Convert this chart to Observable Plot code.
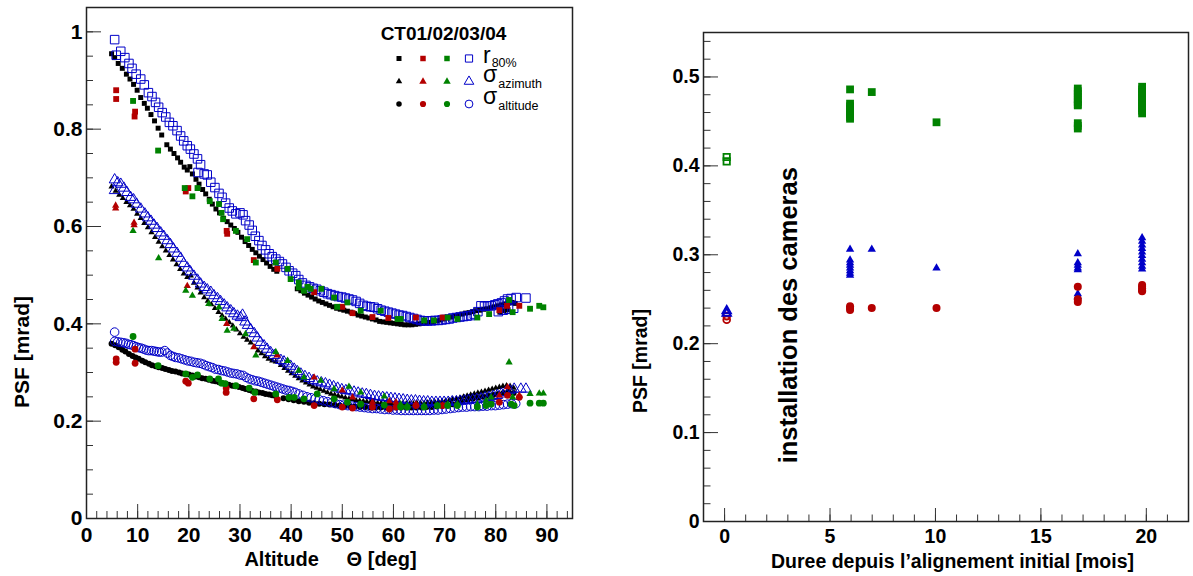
<!DOCTYPE html>
<html><head><meta charset="utf-8">
<script src="https://cdn.jsdelivr.net/npm/d3@7"></script>
<script src="https://cdn.jsdelivr.net/npm/@observablehq/plot@0.6"></script>
<style>
html,body{margin:0;padding:0;background:#fff;}
#wrap{position:relative;width:1193px;height:576px;overflow:hidden;background:#fff;}
#left{position:absolute;left:0;top:0;}
#right{position:absolute;left:600px;top:0;}
</style></head><body><div id="wrap"><div id="left"></div><div id="right"></div></div>
<script>
// ---------------- LEFT PANEL DATA: [altitude deg, PSF mrad] ----------------
const ct01_r80 = [[4.9,.955],[5.5,.947],[6.2,.935],[7.0,.925],[7.8,.913],[8.5,.903],[9.2,.892],[9.9,.880],[10.6,.865],[11.3,.853],[11.9,.843],[12.6,.830],[13.3,.817],[14.0,.802],[14.7,.788],[15.7,.768],[16.4,.759],[17.1,.750],[17.8,.741],[18.4,.732],[19.1,.722],[19.7,.716],[20.2,.723],[20.7,.708],[21.4,.697],[22.0,.687],[22.7,.676],[23.3,.667],[24.0,.656],[24.6,.646],[25.3,.636],[26.0,.628],[26.8,.617],[27.5,.610],[28.2,.603],[28.9,.596],[29.6,.588],[30.3,.578],[31.0,.569],[31.7,.561],[32.4,.553],[33.1,.546],[33.8,.539],[34.5,.532],[35.2,.525],[35.9,.518],[36.6,.512],[37.2,.508],[41.2,.472],[41.9,.468],[42.6,.463],[43.3,.459],[44.0,.455],[44.7,.451],[45.4,.447],[46.1,.444],[46.8,.441],[47.5,.438],[48.2,.435],[48.9,.432],[49.6,.430],[50.3,.428],[51.0,.426],[51.7,.424],[52.4,.421],[53.1,.418],[53.8,.416],[54.5,.414],[55.2,.412],[55.9,.410],[56.6,.408],[57.3,.405],[58.0,.404],[58.7,.403],[59.4,.402],[60.1,.401],[60.8,.400],[61.5,.399],[62.2,.398],[62.9,.398],[63.6,.398],[64.3,.399],[65.0,.400],[65.7,.401],[66.4,.402],[67.1,.403],[67.8,.404],[68.5,.406],[69.2,.408],[69.9,.410],[70.6,.412],[71.3,.414],[72.0,.416],[72.7,.418],[73.4,.420],[74.1,.422],[74.8,.423],[75.5,.425],[76.2,.427],[76.9,.428],[77.6,.430],[78.3,.431],[79.0,.433],[79.7,.435],[80.4,.437],[81.1,.439],[81.8,.441],[82.5,.443],[83.2,.444],[83.8,.442],[80.8,.424],[81.6,.427],[82.4,.429]];
const ct04_r80 = [[5.5,.984],[5.8,.952],[6.7,.960],[7.5,.947],[8.3,.935],[8.9,.925],[9.7,.913],[10.6,.903],[11.3,.891],[12.1,.875],[12.8,.867],[13.5,.855],[14.1,.845],[14.8,.834],[15.5,.825],[16.2,.814],[16.9,.807],[17.7,.797],[18.4,.786],[19.0,.776],[19.7,.766],[20.3,.759],[21.0,.749],[21.7,.739],[22.3,.727],[21.8,.711],[23.0,.708],[23.6,.706],[24.3,.691],[25.1,.680],[25.9,.668],[26.5,.660],[27.2,.648],[27.9,.638],[28.5,.632],[29.2,.626],[30.0,.628],[30.6,.624],[31.1,.612],[31.8,.603],[32.4,.592],[33.0,.580],[33.7,.571],[34.3,.561],[35.0,.552],[35.7,.544],[36.3,.538],[37.0,.533],[37.7,.528],[38.3,.523],[39.0,.516],[39.6,.509],[40.3,.504],[40.9,.499],[41.5,.491],[42.2,.484],[42.9,.479],[43.6,.476],[44.3,.473],[45.0,.471],[45.7,.468],[46.4,.465],[47.1,.462],[47.8,.460],[48.5,.458],[49.2,.456],[49.9,.455],[50.6,.453],[51.3,.451],[52.0,.449],[52.7,.446],[53.4,.442],[54.1,.438],[54.8,.436],[55.5,.435],[56.2,.434],[56.9,.431],[57.6,.428],[58.3,.426],[59.0,.424],[59.7,.422],[60.4,.420],[61.1,.418],[61.8,.417],[62.5,.415],[63.2,.413],[63.9,.411],[64.6,.409],[65.3,.407],[66.0,.406],[66.7,.406],[67.4,.406],[68.1,.407],[68.8,.407],[69.5,.408],[70.2,.409],[70.9,.410],[71.6,.412],[72.3,.413],[73.0,.414],[73.7,.415],[74.4,.416],[75.1,.417],[75.8,.420],[76.5,.425],[77.1,.437],[77.8,.436],[78.4,.437],[79.1,.437],[79.8,.439],[80.4,.441],[81.1,.443],[81.7,.447],[82.3,.451],[83.0,.452],[84.0,.454],[85.9,.453],[80.5,.425],[81.5,.428],[82.5,.430],[83.5,.432]];
const ct01_az = [[4.9,.682],[5.7,.673],[6.4,.665],[7.1,.658],[7.8,.650],[8.5,.643],[9.2,.636],[9.9,.626],[10.6,.617],[11.3,.607],[12.0,.598],[12.7,.588],[13.4,.578],[14.1,.568],[14.8,.559],[15.5,.550],[16.2,.541],[16.9,.532],[17.6,.522],[18.3,.512],[19.0,.503],[19.7,.496],[20.4,.499],[21.0,.484],[21.7,.474],[22.3,.464],[23.0,.454],[23.7,.447],[24.4,.440],[25.1,.432],[25.8,.424],[26.5,.417],[27.2,.410],[27.9,.403],[28.6,.396],[29.3,.388],[30.0,.380],[30.7,.373],[31.4,.367],[32.1,.361],[32.8,.352],[33.5,.345],[34.2,.339],[34.9,.333],[35.6,.328],[36.3,.324],[37.0,.322],[38.0,.315],[38.7,.309],[39.4,.303],[40.1,.298],[40.8,.293],[41.5,.288],[42.2,.283],[42.9,.279],[43.6,.275],[44.3,.271],[45.0,.268],[45.7,.265],[46.4,.262],[47.1,.259],[47.8,.256],[48.5,.254],[49.2,.252],[49.9,.250],[50.6,.248],[51.3,.246],[52.0,.245],[52.7,.243],[53.4,.242],[54.1,.241],[54.8,.240],[55.5,.239],[56.2,.238],[56.9,.237],[57.6,.237],[58.3,.236],[59.0,.236],[59.7,.236],[60.4,.236],[61.1,.236],[61.8,.236],[62.5,.236],[63.2,.236],[63.9,.236],[64.6,.237],[65.3,.237],[66.0,.237],[66.7,.238],[67.4,.238],[68.1,.239],[68.8,.240],[69.5,.241],[70.2,.242],[70.9,.243],[71.6,.245],[72.3,.246],[73.0,.248],[73.7,.250],[74.4,.252],[75.1,.254],[75.8,.256],[76.5,.258],[77.2,.260],[77.9,.262],[78.6,.264],[79.3,.266],[80.0,.268],[80.7,.270],[81.4,.272],[82.1,.273],[82.8,.272],[83.5,.268]];
const ct04_az = [[5.5,.696],[5.5,.674],[6.1,.690],[6.7,.687],[7.3,.679],[7.9,.670],[8.6,.660],[9.2,.655],[9.8,.646],[10.6,.636],[11.4,.626],[12.0,.618],[12.6,.611],[13.2,.603],[13.8,.596],[14.5,.587],[15.1,.580],[15.8,.571],[16.4,.563],[17.0,.554],[17.7,.545],[18.4,.535],[19.0,.524],[19.7,.515],[20.3,.507],[21.0,.498],[21.7,.490],[22.3,.482],[23.0,.475],[23.6,.470],[24.3,.465],[24.9,.458],[25.6,.452],[26.2,.446],[26.9,.439],[27.5,.433],[28.2,.427],[28.8,.421],[29.5,.416],[30.1,.413],[30.5,.418],[31.0,.404],[31.5,.397],[32.1,.388],[32.8,.380],[33.4,.371],[34.0,.362],[34.7,.355],[35.3,.348],[36.0,.341],[36.7,.335],[37.3,.330],[38.0,.325],[38.6,.322],[39.3,.318],[39.9,.313],[40.6,.307],[41.2,.302],[41.9,.297],[42.7,.292],[43.5,.288],[44.3,.284],[45.1,.281],[45.9,.279],[46.7,.277],[47.5,.274],[48.3,.271],[49.1,.268],[49.9,.265],[50.7,.263],[51.5,.262],[52.3,.260],[53.1,.258],[53.9,.256],[54.7,.255],[55.5,.253],[56.3,.251],[57.1,.250],[57.9,.249],[58.7,.248],[59.5,.247],[60.3,.246],[61.1,.245],[61.9,.244],[62.7,.243],[63.5,.242],[64.3,.242],[65.1,.241],[65.9,.240],[66.7,.240],[67.5,.239],[68.3,.239],[69.1,.239],[69.9,.239],[70.7,.239],[71.5,.240],[72.3,.240],[73.1,.241],[73.9,.242],[74.7,.243],[75.5,.244],[76.3,.245],[77.1,.246],[77.9,.248],[78.7,.249],[79.5,.251],[80.3,.253],[81.1,.256],[81.9,.259],[82.7,.263],[83.6,.266],[84.9,.266],[85.9,.266]];
const ct01_alt = [[4.9,.359],[5.6,.356],[6.3,.352],[7.0,.347],[7.6,.343],[8.3,.338],[9.0,.334],[9.6,.331],[10.2,.328],[10.9,.324],[11.5,.321],[12.2,.318],[12.8,.315],[13.5,.313],[14.1,.311],[14.8,.309],[15.4,.307],[16.1,.305],[16.7,.303],[17.4,.302],[18.1,.300],[18.7,.298],[19.4,.297],[20.0,.296],[20.7,.294],[21.3,.292],[22.0,.290],[22.6,.288],[23.3,.287],[23.9,.285],[24.6,.283],[25.2,.282],[25.9,.280],[26.5,.278],[27.2,.277],[27.8,.275],[28.5,.273],[29.1,.272],[29.8,.270],[30.5,.268],[31.1,.266],[31.8,.264],[32.4,.262],[33.1,.261],[33.7,.259],[34.4,.258],[35.0,.256],[35.7,.255],[36.3,.253],[37.0,.251],[38.5,.247],[39.5,.245],[40.5,.243],[41.5,.241],[42.5,.240],[43.5,.238],[44.5,.237],[45.5,.236],[46.5,.235],[47.5,.234],[48.5,.233],[49.5,.232],[50.5,.231],[51.5,.230],[52.5,.230],[53.5,.229],[54.5,.229],[55.5,.228],[56.5,.228],[57.5,.228],[58.5,.228],[59.5,.228],[60.5,.228],[61.5,.228],[62.5,.228],[63.5,.228],[64.5,.228],[65.5,.228],[66.5,.229],[67.5,.229],[68.5,.230],[69.5,.231],[70.5,.233],[71.5,.235],[72.5,.238],[73.5,.241],[74.5,.244],[75.5,.246],[76.5,.248],[77.5,.250],[78.5,.252],[79.5,.254],[80.5,.256],[81.5,.258],[82.5,.260],[83.5,.258]];
const ct04_alt = [[5.5,.383],[5.5,.364],[6.1,.363],[6.7,.362],[7.2,.361],[7.7,.360],[8.2,.358],[8.7,.357],[9.2,.355],[9.7,.353],[10.2,.351],[10.7,.350],[11.2,.348],[11.7,.346],[12.2,.345],[12.7,.345],[13.2,.344],[13.7,.343],[14.2,.342],[14.7,.342],[15.3,.345],[15.8,.340],[16.4,.335],[16.9,.333],[17.4,.331],[18.0,.330],[18.6,.328],[19.2,.326],[19.8,.324],[20.4,.323],[21.0,.321],[21.6,.320],[22.2,.319],[22.8,.317],[23.4,.314],[24.0,.312],[24.6,.310],[25.2,.307],[25.8,.306],[26.4,.304],[27.0,.303],[27.6,.301],[28.2,.299],[28.8,.298],[29.4,.297],[30.0,.295],[30.6,.294],[31.2,.290],[31.8,.287],[32.4,.285],[33.0,.283],[33.6,.282],[34.2,.280],[34.8,.278],[35.4,.276],[36.0,.274],[36.6,.272],[37.2,.270],[37.8,.268],[38.4,.266],[39.0,.264],[39.6,.263],[40.2,.261],[40.8,.259],[41.5,.256],[42.3,.253],[43.1,.250],[43.9,.248],[44.7,.246],[45.5,.244],[46.3,.242],[47.1,.240],[47.9,.238],[48.7,.236],[49.5,.234],[50.3,.233],[51.1,.232],[51.9,.231],[52.7,.230],[53.5,.229],[54.3,.228],[55.1,.227],[55.9,.226],[56.7,.226],[57.5,.225],[58.3,.224],[59.1,.224],[59.9,.223],[60.7,.223],[61.5,.222],[62.3,.222],[63.1,.222],[63.9,.222],[64.7,.222],[65.5,.222],[66.3,.222],[67.1,.222],[67.9,.223],[68.7,.223],[69.5,.224],[70.3,.225],[71.1,.226],[71.9,.227],[72.7,.228],[73.5,.229],[74.3,.229],[75.1,.230],[75.9,.230],[76.7,.230],[77.5,.231],[78.3,.231],[79.1,.232],[79.9,.232],[80.7,.233],[81.5,.234],[82.3,.235],[83.1,.236],[83.9,.236]];
const ct02_r80 = [[5.8,.880],[5.8,.862],[9.5,.836],[9.4,.826],[19.4,.672],[19.9,.679],[27.4,.591],[27.5,.585],[32.7,.531],[37.3,.513],[44.5,.465],[50.0,.435],[52.0,.422],[55.9,.414],[59.0,.412],[64.4,.413],[69.6,.413],[80.7,.428],[82.2,.437],[84.6,.437]];
const ct03_r80 = [[9.1,.858],[14.0,.756],[19.2,.679],[20.7,.662],[21.7,.679],[24.1,.652],[25.9,.646],[26.4,.628],[26.7,.615],[29.2,.591],[31.4,.574],[33.1,.526],[37.0,.526],[39.3,.513],[39.9,.492],[41.5,.485],[41.5,.475],[42.5,.468],[43.2,.476],[43.8,.472],[45.9,.472],[48.4,.454],[49.0,.435],[51.0,.444],[53.6,.427],[57.5,.427],[60.8,.410],[61.4,.410],[66.0,.407],[67.9,.407],[70.6,.413],[72.5,.410],[76.4,.413],[78.7,.420],[82.6,.449],[83.3,.424],[86.7,.431],[88.5,.437],[89.3,.434]];
const ct02_az = [[5.7,.643],[5.7,.637],[9.3,.608],[9.3,.603],[19.7,.478],[27.4,.400],[32.7,.352],[37.3,.335],[44.5,.290],[50.0,.263],[52.0,.249],[55.9,.239],[59.2,.241],[60.5,.239],[64.4,.235],[69.6,.232],[80.7,.253],[82.3,.270],[84.6,.253]];
const ct03_az = [[9.1,.591],[14.1,.535],[19.4,.468],[20.7,.458],[23.9,.441],[25.9,.434],[26.5,.410],[27.5,.386],[28.8,.390],[31.1,.379],[33.1,.335],[37.0,.342],[39.3,.324],[41.5,.304],[42.5,.290],[45.8,.283],[48.4,.266],[51.3,.271],[53.6,.259],[58.2,.251],[61.4,.235],[62.7,.232],[66.0,.232],[68.6,.232],[70.6,.235],[72.5,.235],[76.4,.235],[78.1,.242],[79.1,.249],[82.6,.321],[83.3,.249],[86.7,.256],[88.5,.257],[89.3,.257]];
const ct02_alt = [[5.8,.328],[5.8,.321],[9.5,.348],[9.5,.319],[19.4,.282],[19.9,.278],[27.3,.268],[27.3,.259],[32.7,.246],[37.3,.244],[44.5,.232],[50.0,.229],[52.0,.227],[55.9,.229],[59.2,.225],[60.5,.229],[64.4,.232],[69.6,.232],[80.7,.239],[82.3,.253],[84.6,.249]];
const ct03_alt = [[9.1,.374],[14.0,.314],[19.4,.297],[20.7,.290],[21.7,.295],[24.1,.287],[25.8,.287],[26.4,.278],[27.1,.277],[29.2,.273],[31.8,.268],[32.9,.259],[37.0,.256],[39.6,.249],[40.6,.249],[42.5,.246],[45.1,.256],[48.4,.246],[51.0,.239],[53.6,.235],[58.2,.233],[61.4,.229],[62.7,.229],[66.0,.229],[68.6,.232],[70.6,.232],[72.5,.232],[76.4,.229],[78.1,.232],[79.1,.235],[83.0,.235],[83.6,.232],[86.7,.237],[88.5,.237],[89.3,.237]];

// ---------------- RIGHT PANEL DATA: [months, PSF mrad] ----------------
const r80_initial = [[0.1,.410],[0.1,.405]];
const az_initial = [[0.1,.237],[0.1,.234]];
const alt_initial = [[0.1,.231],[0.1,.227]];
const r80_later = [[5.95,.486],[5.95,.470],[5.95,.467],[5.95,.464],[5.95,.461],[5.95,.458],[5.95,.455],[5.95,.453],[6.98,.483],[10.05,.449],
  [16.75,.487],[16.75,.484],[16.75,.481],[16.75,.478],[16.75,.475],[16.75,.472],[16.75,.469],[16.75,.468],[16.75,.448],[16.75,.445],[16.75,.442],
  [19.8,.489],[19.8,.486],[19.8,.483],[19.8,.480],[19.8,.477],[19.8,.474],[19.8,.471],[19.8,.468],[19.8,.465],[19.8,.462],[19.8,.459]];
const az_later = [[5.95,.306],[5.95,.294],[5.95,.291],[5.95,.288],[5.95,.285],[5.95,.282],[5.95,.279],[5.95,.277],[6.98,.306],[10.05,.285],
  [16.75,.301],[16.75,.291],[16.75,.288],[16.75,.285],[16.75,.283],[16.75,.256],[16.75,.253],
  [19.8,.319],[19.8,.315],[19.8,.311],[19.8,.307],[19.8,.303],[19.8,.299],[19.8,.295],[19.8,.291],[19.8,.287],[19.8,.284]];
const alt_later = [[5.95,.242],[5.95,.240],[5.95,.238],[6.98,.240],[10.05,.240],
  [16.75,.264],[16.75,.250],[16.75,.247],
  [19.8,.266],[19.8,.264],[19.8,.262],[19.8,.260],[19.8,.259]];

// ---------------- TICKS AND TEXTS ----------------
const leftYTicks = [0, 0.2, 0.4, 0.6, 0.8, 1];
const leftXTicks = [0, 10, 20, 30, 40, 50, 60, 70, 80, 90];
const rightYTicks = [0, 0.1, 0.2, 0.3, 0.4, 0.5];
const rightXTicks = [0, 5, 10, 15, 20];
const leftXTitle = "Altitude\u00a0\u00a0\u00a0\u00a0\u00a0Θ [deg]";
const yTitle = "PSF [mrad]";
const rightXTitle = "Duree depuis l\u2019alignement initial [mois]";
const annotation = "installation des cameras";
const legendTitle = "CT01/02/03/04";
const legendRows = [["r","80%"],["σ","azimuth"],["σ","altitude"]];

const FONT = "'Liberation Sans', Arial, Helvetica, sans-serif";
const BLACK = "#000000", RED = "#b40000", GREEN = "#008200", BLUE = "#0000c8", AX = "#333333";
const pts = a => a.map(([x, y]) => ({x, y}));

// ================= LEFT PLOT =================
const LW = 600, LH = 576, LML = 86, LMR = 28, LMT = 7, LMB = 58;
const lfw = LW - LML - LMR, lfh = LH - LMT - LMB;
const leftYMinor = d3.range(0, 1.0501, 0.05);
const leftXMinor = d3.range(0, 95, 2);

const dotSet = (data, sym, r, color, open, sw = 1) => Plot.dot(pts(data), {
  x: "x", y: "y", symbol: sym, r,
  fill: open ? "none" : color, stroke: open ? color : "none", strokeWidth: open ? sw : 0
});
const title = (txt, o) => Plot.text([txt], {text: d => d, textAnchor: "middle", lineAnchor: "middle", fontWeight: "bold", fill: "black", ...o});

const left = Plot.plot({
  width: LW, height: LH,
  marginLeft: LML, marginRight: LMR, marginTop: LMT, marginBottom: LMB,
  x: {domain: [0, 95], label: null},
  y: {domain: [0, 1.05], label: null},
  style: {fontFamily: FONT, background: "white", overflow: "visible", color: "black"},
  marks: [
    Plot.tickY(leftYMinor, {y: d => d, insetRight: lfw - 7, stroke: AX, strokeWidth: 1}),
    Plot.tickY(leftYTicks, {y: d => d, insetRight: lfw - 15, stroke: AX, strokeWidth: 1}),
    Plot.tickX(leftXMinor, {x: d => d, insetTop: lfh - 7, stroke: AX, strokeWidth: 1}),
    Plot.tickX(leftXTicks, {x: d => d, insetTop: lfh - 14, stroke: AX, strokeWidth: 1}),
    Plot.axisY({ticks: leftYTicks, tickSize: 0, tickPadding: 4, fontSize: 21, fontWeight: "bold", tickFormat: d => String(d), label: null}),
    Plot.axisX({ticks: leftXTicks, tickSize: 0, tickPadding: 9, fontSize: 21, fontWeight: "bold", tickFormat: d => String(d), label: null}),
    title(leftXTitle, {frameAnchor: "bottom", dx: 1, dy: 41, fontSize: 20}),
    title(yTitle, {frameAnchor: "left", rotate: -90, dx: -64, dy: 89, fontSize: 21}),
    dotSet(ct01_r80, "square", 2.8, BLACK, false),
    dotSet(ct01_az, "triangle", 2.3, BLACK, false),
    dotSet(ct01_alt, "circle", 3, BLACK, false),
    dotSet(ct04_r80, "square", 4.8, BLUE, true),
    dotSet(ct04_az, "triangle", 4, BLUE, true),
    dotSet(ct04_alt, "circle", 4.3, BLUE, true),
    dotSet(ct02_r80, "square", 3.3, RED, false),
    dotSet(ct02_az, "triangle", 2.7, RED, false),
    dotSet(ct02_alt, "circle", 3.4, RED, false),
    dotSet(ct03_r80, "square", 3.3, GREEN, false),
    dotSet(ct03_az, "triangle", 2.7, GREEN, false),
    dotSet(ct03_alt, "circle", 3.4, GREEN, false),
    Plot.frame({stroke: "#222", strokeWidth: 1.5})
  ]
});
document.getElementById("left").appendChild(left);

// legend (decoration)
{
  const g = d3.select(left).append("g").attr("font-family", FONT).attr("text-anchor", "start");
  g.append("text").attr("x", 443.5).attr("y", 40).attr("text-anchor", "middle")
    .attr("font-size", 19).attr("font-weight", "bold").text(legendTitle);
  const cols = [399, 423, 447, 469];
  const rows = [58.5, 81.5, 104];
  const colors = [BLACK, RED, GREEN, BLUE];
  const types = [d3.symbolSquare, d3.symbolTriangle, d3.symbolCircle];
  const sizes = [[25, 30, 30, 52], [18, 24, 24, 40], [24, 30, 30, 48]];
  rows.forEach((ry, i) => {
    cols.forEach((cx, j) => {
      const open = j === 3;
      g.append("path").attr("d", d3.symbol().type(types[i]).size(sizes[i][j])())
        .attr("transform", `translate(${cx},${ry})`)
        .attr("fill", open ? "none" : colors[j]).attr("stroke", open ? colors[j] : "none").attr("stroke-width", 1);
    });
    const base = ry + (i === 0 ? 4 : 0);
    const main = g.append("text").attr("x", 483).attr("y", base).attr("text-anchor", "start")
      .attr("font-size", 23).text(legendRows[i][0]);
    let w = 0;
    try { w = main.node().getComputedTextLength(); } catch (e) { w = i === 0 ? 7.7 : 13; }
    if (!w) w = i === 0 ? 7.7 : 13;
    g.append("text").attr("x", 483 + w + 1).attr("y", base + (i === 0 ? 4.5 : 6)).attr("text-anchor", "start")
      .attr("font-size", 12.5).text(legendRows[i][1]);
  });
}

// ================= RIGHT PLOT =================
const RW = 593, RH = 576, RML = 103, RMR = 5, RMT = 32, RMB = 55;
const rfw = RW - RML - RMR, rfh = RH - RMT - RMB;
const rightYMinor = d3.range(0, 0.5501, 0.02);
const rightXMinor = d3.range(-1, 22.01, 1);

const right = Plot.plot({
  width: RW, height: RH,
  marginLeft: RML, marginRight: RMR, marginTop: RMT, marginBottom: RMB,
  x: {domain: [-1, 22], label: null},
  y: {domain: [0, 0.55], label: null},
  style: {fontFamily: FONT, background: "white", overflow: "visible", color: "black"},
  marks: [
    Plot.tickY(rightYMinor, {y: d => d, insetRight: rfw - 7.5, stroke: AX, strokeWidth: 1}),
    Plot.tickY(rightYTicks, {y: d => d, insetRight: rfw - 15, stroke: AX, strokeWidth: 1}),
    Plot.tickX(rightXMinor, {x: d => d, insetTop: rfh - 6.5, stroke: AX, strokeWidth: 1}),
    Plot.tickX(rightXTicks, {x: d => d, insetTop: rfh - 13, stroke: AX, strokeWidth: 1}),
    Plot.axisY({ticks: rightYTicks, tickSize: 0, tickPadding: 4, fontSize: 19.5, fontWeight: "bold", tickFormat: d => String(d), label: null}),
    Plot.axisX({ticks: rightXTicks, tickSize: 0, tickPadding: 7.5, fontSize: 19.5, fontWeight: "bold", tickFormat: d => String(d), label: null}),
    title(rightXTitle, {frameAnchor: "bottom", dx: 6.5, dy: 40, fontSize: 19.5}),
    title(yTitle, {frameAnchor: "left", rotate: -90, dx: -63, dy: 84, fontSize: 19.5}),
    title(annotation, {x: () => 3.05, y: () => 0.232, rotate: -90, fontSize: 25.5}),
    dotSet(r80_initial, "square", 3.6, GREEN, true, 1.8),
    dotSet(alt_initial, "circle", 3.4, RED, true, 1.8),
    dotSet(az_initial, "triangle", 3.2, BLUE, true, 1.8),
    dotSet(r80_later, "square", 4.4, GREEN, false),
    dotSet(az_later, "triangle", 3.1, BLUE, false),
    dotSet(alt_later, "circle", 4, RED, false),
    Plot.frame({stroke: "#222", strokeWidth: 1.5})
  ]
});
document.getElementById("right").appendChild(right);
</script></body></html>
